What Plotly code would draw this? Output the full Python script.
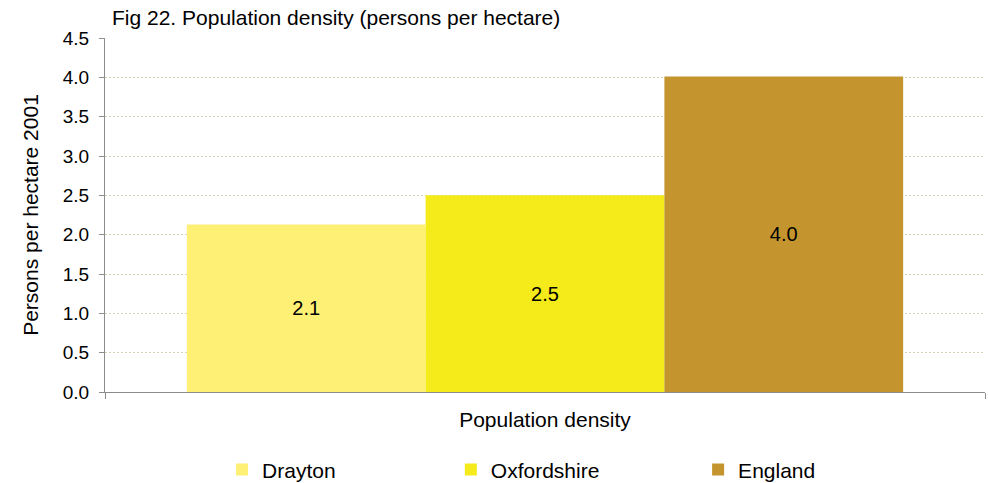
import plotly.graph_objects as go

# data
category = ["Population density"]
areas = ["Drayton", "Oxfordshire", "England"]
density = [2.13, 2.50, 4.01]
labels = ["2.1", "2.5", "4.0"]
colors = ["#FEF074", "#F5EA1A", "#C4952E"]

font_family = "Arial, Liberation Sans, sans-serif"

# one legend per area so each entry can sit where the reference has it
legend_ids = ["legend", "legend2", "legend3"]
legend_x = [0.133, 0.393, 0.674]

fig = go.Figure()
for name, val, lab, col, lg in zip(areas, density, labels, colors, legend_ids):
    fig.add_trace(go.Bar(
        name=name,
        x=category,
        y=[val],
        text=[lab],
        textposition="inside",
        insidetextanchor="middle",
        textangle=0,
        textfont=dict(size=20, color="black", family=font_family),
        marker=dict(color=col, line=dict(width=0)),
        hoverinfo="skip",
        legend=lg,
    ))

legend_style = dict(
    orientation="h",
    xanchor="left",
    y=-0.22, yanchor="middle",
    itemwidth=30,
    font=dict(size=21, color="black", family=font_family),
    bgcolor="rgba(0,0,0,0)",
)

fig.update_layout(
    width=988,
    height=483,
    barmode="group",
    bargap=0.186,
    bargroupgap=0,
    plot_bgcolor="white",
    paper_bgcolor="white",
    font=dict(family=font_family, size=19, color="black"),
    margin=dict(l=105, r=3, t=38, b=91, pad=0, autoexpand=False),
    title=dict(
        text="Fig 22. Population density (persons per hectare)",
        x=112 / 988, xanchor="left",
        y=1 - 18 / 483, yanchor="middle",
        font=dict(size=21, color="black", family=font_family),
    ),
    legend=dict(x=legend_x[0], **legend_style),
    legend2=dict(x=legend_x[1], **legend_style),
    legend3=dict(x=legend_x[2], **legend_style),
    showlegend=True,
)

fig.update_xaxes(
    showticklabels=False,
    tickson="boundaries",
    ticks="outside", ticklen=6, tickcolor="#8C8C8C",
    showline=True, linecolor="#8C8C8C", linewidth=1,
    showgrid=False,
    automargin=False,
    title=dict(text="Population density", standoff=20,
               font=dict(size=21, color="black", family=font_family)),
)
fig.update_yaxes(
    range=[0, 4.5],
    dtick=0.5,
    tickformat=".1f",
    ticks="outside", ticklen=5, tickcolor="#8C8C8C",
    ticklabelstandoff=6,
    showline=True, linecolor="#8C8C8C", linewidth=1,
    showgrid=True, gridcolor="#D8D2B2", griddash="2px,2px", gridwidth=1,
    zeroline=False,
    automargin=False,
    tickfont=dict(size=19, color="black", family=font_family),
    title=dict(text="Persons per hectare 2001", standoff=18,
               font=dict(size=21, color="black", family=font_family)),
)

# page body has a default margin; remove it so the figure sits at the window corner
fig.write_html("out.html", config={"displayModeBar": False},
               post_script="document.body.style.margin='0';")
